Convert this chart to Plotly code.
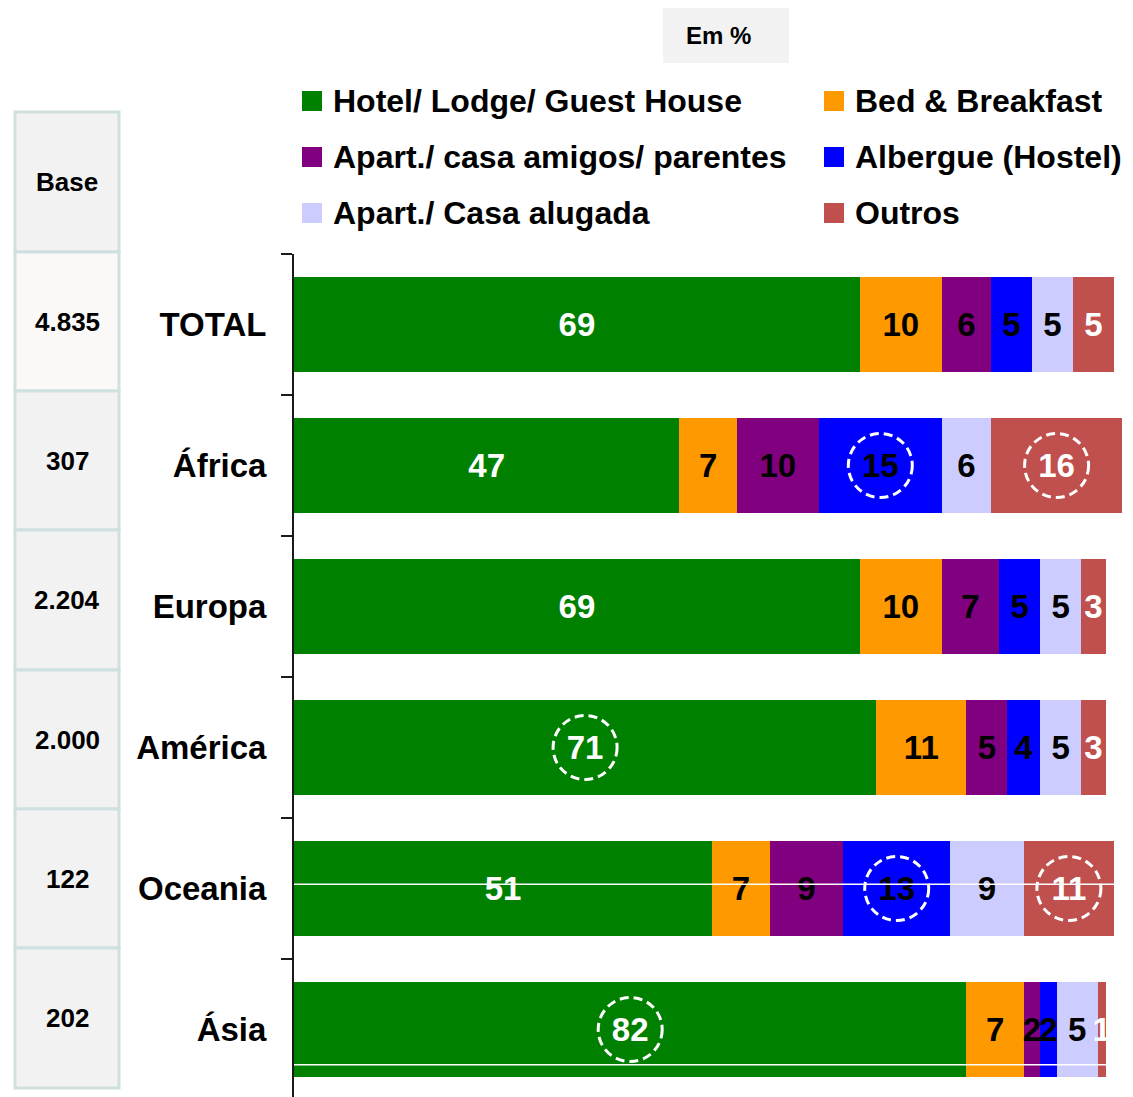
import plotly.graph_objects as go

# ---------------- data ----------------
categories = ["TOTAL", "África", "Europa", "América", "Oceania", "Ásia"]
bases = ["4.835", "307", "2.204", "2.000", "122", "202"]

series_names = [
    "Hotel/ Lodge/ Guest House",
    "Bed & Breakfast",
    "Apart./ casa amigos/ parentes",
    "Albergue (Hostel)",
    "Apart./ Casa alugada",
    "Outros",
]
hotel = [69, 47, 69, 71, 51, 82]
bed_breakfast = [10, 7, 10, 11, 7, 7]
casa_amigos = [6, 10, 7, 5, 9, 2]
albergue = [5, 15, 5, 4, 13, 2]
casa_alugada = [5, 6, 5, 5, 9, 5]
outros = [5, 16, 3, 3, 11, 1]

# highlighted (circled) values: (category, series index)
highlights = [("África", 3), ("África", 5), ("América", 0),
              ("Oceania", 3), ("Oceania", 5), ("Ásia", 0)]

# ---------------- styles ----------------
series_values = [hotel, bed_breakfast, casa_amigos, albergue, casa_alugada, outros]
colors = ["#008000", "#FF9900", "#800080", "#0000FF", "#CCCCFF", "#C0504D"]
text_colors = ["white", "black", "black", "black", "black", "white"]
FONT = "Arial, Liberation Sans, sans-serif"

OFF = 8  # page body margin
W, H = 1133 - OFF, 1097 - OFF
ML, MT, MB, MR = 294 - OFF, 254 - OFF, 0, 0
PW, PH = W - ML - MR, H - MT - MB
BAND = 141.0


def xp(px):
    return (px - OFF - ML) / PW


def yp(py):
    return (H - MB - (py - OFF)) / PH


fig = go.Figure()
for name, vals, col, tcol in zip(series_names, series_values, colors, text_colors):
    fig.add_trace(go.Bar(
        y=categories, x=vals, name=name, orientation="h",
        marker=dict(color=col, line=dict(width=0)),
        text=[str(v) for v in vals], textposition="inside",
        insidetextanchor="middle", textangle=0, constraintext="none",
        textfont=dict(family=FONT, size=33, color=tcol, weight="bold"),
        hoverinfo="skip", showlegend=False,
    ))

shapes = []
annotations = []

# circled highlights, placed at the middle of the segment
for cat, si in highlights:
    ci = categories.index(cat)
    start = sum(series_values[k][ci] for k in range(si))
    mid = start + series_values[si][ci] / 2
    shapes.append(dict(
        type="circle", xref="x", yref="y", xsizemode="pixel", ysizemode="pixel",
        xanchor=mid, yanchor=ci, x0=-32, x1=32, y0=-32, y1=32,
        line=dict(color="white", width=3, dash="9px,5px"), layer="above",
    ))

# thin white lines crossing the Oceania and Ásia bars (as in reference)
for ci, off in [(4, -0.03), (5, 0.25)]:
    shapes.append(dict(type="line", xref="paper", yref="y", x0=0, x1=1,
                       y0=ci + off, y1=ci + off,
                       line=dict(color="white", width=1.5), layer="above"))

# Base column
box_edges = [112, 252, 391, 530, 670, 809, 948, 1088]
for i in range(len(box_edges) - 1):
    fill = "#FAF9F7" if i == 1 else "#F2F2F2"
    shapes.append(dict(type="rect", xref="paper", yref="paper",
                       x0=xp(15), x1=xp(119), y0=yp(box_edges[i + 1]), y1=yp(box_edges[i]),
                       fillcolor=fill, line=dict(color="#CFE0E0", width=3), layer="below"))
labels_col = ["Base"] + bases
for i, t in enumerate(labels_col):
    cy = (box_edges[i] + box_edges[i + 1]) / 2
    annotations.append(dict(text=t, xref="paper", yref="paper", x=xp(67), y=yp(cy),
                            showarrow=False, xanchor="center", yanchor="middle",
                            font=dict(family=FONT, size=26, color="black", weight="bold")))

# "Em %" box
shapes.append(dict(type="rect", xref="paper", yref="paper", x0=xp(663), x1=xp(789),
                   y0=yp(63), y1=yp(5), fillcolor="#F2F2F2", line=dict(width=0)))
annotations.append(dict(text="Em %", xref="paper", yref="paper", x=xp(718), y=yp(35),
                        showarrow=False, xanchor="center", yanchor="middle",
                        font=dict(family=FONT, size=24, color="black", weight="bold")))

# Legend (manual, 2 columns)
leg_x = [302, 824]
for i, (name, col) in enumerate(zip(series_names, colors)):
    cx = leg_x[i % 2]
    cy = 101 + 56 * (i // 2)
    shapes.append(dict(type="rect", xref="paper", yref="paper",
                       x0=xp(cx), x1=xp(cx + 20), y0=yp(cy + 10), y1=yp(cy - 10),
                       fillcolor=col, line=dict(width=0)))
    annotations.append(dict(text=name, xref="paper", yref="paper", x=xp(cx + 29), y=yp(cy),
                            showarrow=False, xanchor="left", yanchor="middle",
                            font=dict(family=FONT, size=32, color="black", weight="bold")))

fig.update_layout(
    barmode="stack", bargap=0.32,
    width=W, height=H,
    margin=dict(l=ML, r=MR, t=MT, b=MB, pad=0, autoexpand=False),
    paper_bgcolor="white", plot_bgcolor="white",
    showlegend=False,
    shapes=shapes, annotations=annotations,
    xaxis=dict(range=[0, PW / 8.2], visible=False, fixedrange=True),
    yaxis=dict(type="category", categoryorder="array", categoryarray=categories,
               range=[-0.5 + PH / BAND, -0.5],
               showline=True, linecolor="#1a1a1a", linewidth=2,
               ticks="outside", ticklen=11, tickwidth=2, tickcolor="#1a1a1a",
               tickson="boundaries", showgrid=False, automargin=False,
               ticklabelstandoff=19,
               tickfont=dict(family=FONT, size=33, color="black", weight="bold")),
)

fig.write_html("out.html")
